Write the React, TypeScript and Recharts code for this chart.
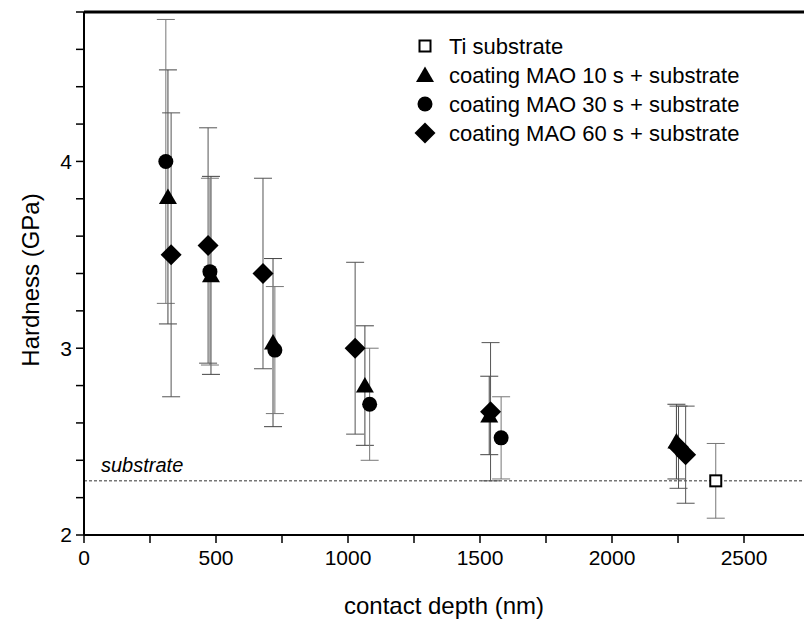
import React from "react";
import {
  ScatterChart,
  Scatter,
  XAxis,
  YAxis,
  ErrorBar,
  ReferenceLine,
  Legend,
} from "recharts";

// contact depth (nm), hardness (GPa), error (GPa)
const tiSubstrate = [{ x: 2393, y: 2.29, err: 0.2 }];

const mao10 = [
  { x: 318, y: 3.81, err: 0.68 },
  { x: 481, y: 3.39, err: 0.53 },
  { x: 716, y: 3.03, err: 0.45 },
  { x: 1064, y: 2.8, err: 0.32 },
  { x: 1535, y: 2.64, err: 0.21 },
  { x: 2244, y: 2.5, err: 0.2 },
];

const mao30 = [
  { x: 310, y: 4.0, err: 0.76 },
  { x: 477, y: 3.41, err: 0.5 },
  { x: 723, y: 2.99, err: 0.34 },
  { x: 1082, y: 2.7, err: 0.3 },
  { x: 1580, y: 2.52, err: 0.22 },
];

const mao60 = [
  { x: 330, y: 3.5, err: 0.76 },
  { x: 470, y: 3.55, err: 0.63 },
  { x: 678, y: 3.4, err: 0.51 },
  { x: 1027, y: 3.0, err: 0.46 },
  { x: 1540, y: 2.66, err: 0.37 },
  { x: 2252, y: 2.47, err: 0.22 },
  { x: 2279, y: 2.43, err: 0.26 },
];

const substrateLevel = 2.29;

const xTicks = [0, 250, 500, 750, 1000, 1250, 1500, 1750, 2000, 2250, 2500, 2750];
const yTicks = [2, 2.2, 2.4, 2.6, 2.8, 3, 3.2, 3.4, 3.6, 3.8, 4, 4.2, 4.4, 4.6, 4.8];

const legendNames = [
  "Ti substrate",
  "coating MAO 10 s + substrate",
  "coating MAO 30 s + substrate",
  "coating MAO 60 s + substrate",
];

const FONT = "'Liberation Sans', Arial, Helvetica, sans-serif";

const SquareShape = (p: any) => (
  <rect x={p.cx - 5.5} y={p.cy - 5.5} width={11} height={11} fill="#fff" stroke="#000" strokeWidth={2} />
);
const TriangleShape = (p: any) => (
  <polygon
    points={`${p.cx},${p.cy - 8.5} ${p.cx - 9},${p.cy + 7} ${p.cx + 9},${p.cy + 7}`}
    fill="#000"
  />
);
const CircleShape = (p: any) => <circle cx={p.cx} cy={p.cy} r={7.5} fill="#000" />;
const DiamondShape = (p: any) => (
  <polygon
    points={`${p.cx},${p.cy - 10.5} ${p.cx + 10.5},${p.cy} ${p.cx},${p.cy + 10.5} ${p.cx - 10.5},${p.cy}`}
    fill="#000"
  />
);

const legendShapes = [SquareShape, TriangleShape, CircleShape, DiamondShape];

const renderLegend = () => (
  <svg width={400} height={120}>
    {legendNames.map((name, i) => {
      const Shape = legendShapes[i];
      const y = 16 + i * 29;
      return (
        <g key={name}>
          <Shape cx={15} cy={y} />
          <text x={39} y={y} dominantBaseline="central" fontFamily={FONT} fontSize={22} fill="#000">
            {name}
          </text>
        </g>
      );
    })}
  </svg>
);

const fmtX = (v: number) => (v % 500 === 0 ? String(v) : "");
const fmtY = (v: number) => (Math.abs(v - Math.round(v)) < 1e-6 ? String(Math.round(v)) : "");

const tickStyle = { fontFamily: FONT, fontSize: 21, fill: "#000" };

export default function App() {
  return (
    <div style={{ position: "absolute", left: 0, top: 0, width: 804, height: 621, overflow: "hidden", background: "#fff" }}>
      <ScatterChart width={830} height={621} margin={{ top: 12, right: 20, left: 14, bottom: 0 }}>
        <XAxis
          type="number"
          dataKey="x"
          domain={[0, 2750]}
          ticks={xTicks}
          tickFormatter={fmtX}
          tick={tickStyle}
          tickSize={8}
          tickMargin={7}
          height={86}
          axisLine={{ stroke: "#000", strokeWidth: 2 }}
          tickLine={{ stroke: "#000", strokeWidth: 1.5 }}
          interval={0}
          label={() => (
            <text
              x={444}
              y={605}
              textAnchor="middle"
              dominantBaseline="central"
              fontFamily={FONT}
              fontSize={24}
              fill="#000"
            >
              contact depth (nm)
            </text>
          )}
        />
        <YAxis
          type="number"
          dataKey="y"
          domain={[2, 4.8]}
          ticks={yTicks}
          tickFormatter={fmtY}
          tick={tickStyle}
          tickSize={8}
          tickMargin={4}
          width={70}
          axisLine={{ stroke: "#000", strokeWidth: 2 }}
          tickLine={{ stroke: "#000", strokeWidth: 1.5 }}
          interval={0}
          label={() => (
            <text
              x={30}
              y={280}
              transform="rotate(-90 30 280)"
              textAnchor="middle"
              dominantBaseline="central"
              fontFamily={FONT}
              fontSize={24}
              fill="#000"
            >
              Hardness (GPa)
            </text>
          )}
        />
        <ReferenceLine y={4.8} stroke="#000" strokeWidth={3} />
        <ReferenceLine
          y={substrateLevel}
          stroke="#333"
          strokeWidth={1}
          strokeDasharray="3 2"
          label={(props: any) => (
            <text
              x={props.viewBox.x + 17}
              y={props.viewBox.y - 9}
              fontFamily={FONT}
              fontSize={20}
              fontStyle="italic"
              fill="#000"
            >
              substrate
            </text>
          )}
        />
        <Legend
          layout="horizontal"
          verticalAlign="middle"
          align="center"
          content={renderLegend}
          wrapperStyle={{ position: "absolute", left: 410, top: 30, width: 400, height: 120 }}
        />
        <Scatter name={legendNames[0]} data={tiSubstrate} shape={SquareShape} isAnimationActive={false}>
          <ErrorBar dataKey="err" direction="y" width={9} stroke="#777" strokeWidth={1} />
        </Scatter>
        <Scatter name={legendNames[1]} data={mao10} shape={TriangleShape} isAnimationActive={false}>
          <ErrorBar dataKey="err" direction="y" width={9} stroke="#444" strokeWidth={1} />
        </Scatter>
        <Scatter name={legendNames[2]} data={mao30} shape={CircleShape} isAnimationActive={false}>
          <ErrorBar dataKey="err" direction="y" width={9} stroke="#777" strokeWidth={1} />
        </Scatter>
        <Scatter name={legendNames[3]} data={mao60} shape={DiamondShape} isAnimationActive={false}>
          <ErrorBar dataKey="err" direction="y" width={9} stroke="#555" strokeWidth={1} />
        </Scatter>
      </ScatterChart>
    </div>
  );
}
